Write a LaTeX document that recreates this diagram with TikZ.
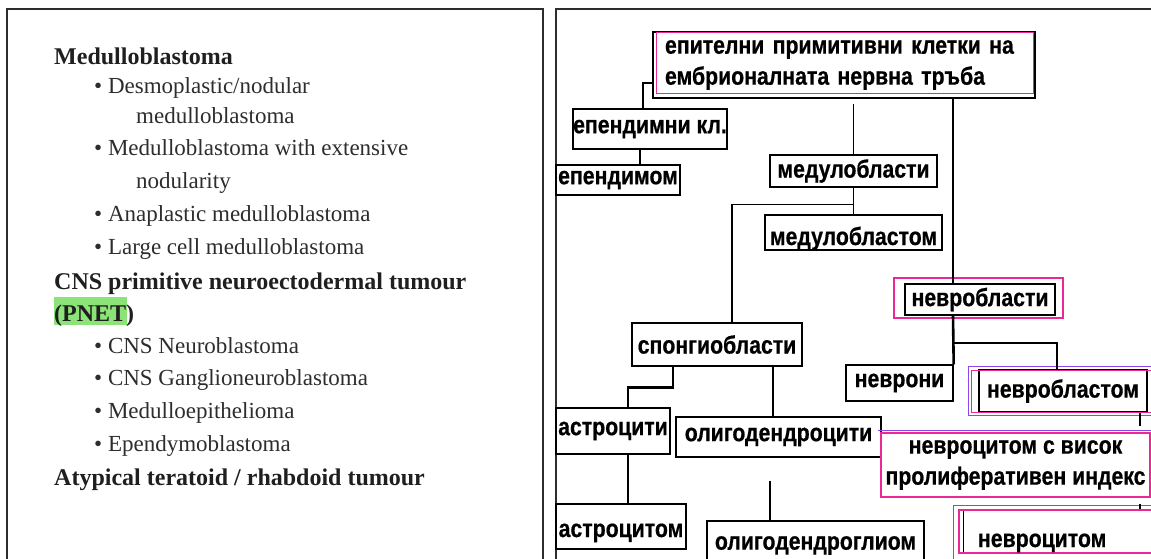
\documentclass[tikz,border=0pt]{standalone}
\usepackage{fontspec}
\setmainfont{Liberation Serif}
\newfontfamily\boxfont[FakeStretch=0.85,FakeBold=0.6]{Liberation Sans}
\usetikzlibrary{calc}

\definecolor{rose}{RGB}{236,40,150}
\definecolor{mauve}{RGB}{140,70,235}
\definecolor{surligne}{RGB}{140,228,120}
\definecolor{encre}{RGB}{45,45,45}

\tikzset{
  boite/.style={draw, line width=1.4pt, inner sep=0pt, text=black,
    font=\boxfont\bfseries\fontsize{25}{31}\selectfont},
  boitegrasse/.style={boite, line width=2.6pt},
  liste/.style={anchor=base west, inner sep=0pt, text=encre,
    font=\fontsize{23}{27}\selectfont},
  titre/.style={liste, text=black!88, font=\bfseries\fontsize{24}{27}\selectfont},
  lien/.style={line width=1.4pt},
  liengras/.style={line width=2.6pt}
}

% texte abaisse dans sa boite
\newcommand{\bas}[2]{\raisebox{-#1}[0pt][0pt]{#2}}

\begin{document}
\begin{tikzpicture}[x=1pt,y=-1pt]

%%%%%%%%%%%%%%%%%%%%%%
%%%	   Def style    %%%
%%%%%%%%%%%%%%%%%%%%%%

\def \epais{2.6pt}
\def \fin{1.4pt}
\def \cadre{1.3pt}

\useasboundingbox (0,0) rectangle (1151,559);
\clip (0,0) rectangle (1151,559);

%%%%%%%%%%%%%%%%%%%%%%
%%%	    Cadres      %%%
%%%%%%%%%%%%%%%%%%%%%%

\draw[line width=\fin, draw=encre] (7,570) -- (7,9) -- (543,9) -- (543,570);
\draw[line width=\fin, draw=encre] (556,570) -- (556,9) -- (1160,9);

%%%%%%%%%%%%%%%%%%%%%%
%%%	  Classification %%%
%%%%%%%%%%%%%%%%%%%%%%

% On surligne le sigle
\fill[surligne] (54,297) rectangle (127,325);

\node[titre] (medullo) at (54,65) {Medulloblastoma};
\node[liste] (desmo) at (94,94) {• Desmoplastic/nodular};
\node[liste] (desmob) at (136,124) {medulloblastoma};
\node[liste] (extens) at (94,156) {• Medulloblastoma with extensive};
\node[liste] (extensb) at (136,188) {nodularity};
\node[liste] (anapl) at (94,221) {• Anaplastic medulloblastoma};
\node[liste] (grande) at (94,254) {• Large cell medulloblastoma};
\node[titre] (pnet) at (54,289) {CNS primitive neuroectodermal tumour};
\node[titre] (pnetb) at (54,321) {(PNET)};
\node[liste] (neurob) at (94,353) {• CNS Neuroblastoma};
\node[liste] (gangl) at (94,385) {• CNS Ganglioneuroblastoma};
\node[liste] (epith) at (94,418) {• Medulloepithelioma};
\node[liste] (ependb) at (94,451) {• Ependymoblastoma};
\node[titre] (atyp) at (54,485) {Atypical teratoid / rhabdoid tumour};

%%%%%%%%%%%%%%%%%%%%%%
%%%	    Schema      %%%
%%%%%%%%%%%%%%%%%%%%%%

% Boite du haut
\node[boitegrasse, minimum width=382pt, minimum height=66pt, text width=358pt,
  align=left, inner xsep=12pt] (epit) at (844,65)
  {епителни примитивни клетки на\\ембрионалната нервна тръба};
\draw[rose, line width=\cadre] ([shift={(5,2)}]epit.north west) rectangle ([shift={(-3,-6)}]epit.south east);

% Branche ependymaire
\node[boitegrasse, minimum width=154pt, minimum height=40pt] (epend) at (650,129) {епендимни кл.};
\node[boite, minimum width=124pt, minimum height=30pt] (ependom) at (618,180) {епендимом};

% Branche medullaire
\node[boitegrasse, minimum width=167pt, minimum height=32pt] (medbl) at (853.5,171) {медулобласти};
\node[boite, minimum width=177pt, minimum height=35pt] (medblm) at (853.5,232.5) {\bas{12.5pt}{медулобластом}};
\node[boite, minimum width=170pt, minimum height=43pt] (spong) at (717,344.5) {спонгиобласти};
\node[boite, minimum width=114pt, minimum height=46pt] (astr) at (613,431) {астроцити};
\node[boite, minimum width=205pt, minimum height=40pt] (oligo) at (778.5,437) {олигодендроцити};
\node[boite, minimum width=130pt, minimum height=45pt] (astrm) at (621,526.5) {\bas{10.5pt}{астроцитом}};
\node[boite, minimum width=217pt, minimum height=49pt] (oligogl) at (815.5,545.5) {олигодендроглиом};

% Branche neuronale
\node[boite, line width=2pt, minimum width=150pt, minimum height=31pt] (nevbl) at (980,299.5) {невробласти};
\draw[rose, line width=\cadre] ([shift={(-10,-5)}]nevbl.north west) rectangle ([shift={(7,2)}]nevbl.south east);

\node[boite, minimum width=107pt, minimum height=36pt] (nevr) at (899.5,383) {неврони};

\node[boite, minimum width=168pt, minimum height=42pt] (nevblm) at (1063,391) {невробластом};
\draw[rose, line width=\cadre] ([shift={(-7,1)}]nevblm.north west) rectangle ([shift={(13,0)}]nevblm.south east);
\draw[mauve, line width=\cadre] ([shift={(-10,-3)}]nevblm.north west) rectangle ([shift={(16,3)}]nevblm.south east);

\node[boite, draw=rose, minimum width=269pt, minimum height=64pt, align=center] (nevcv) at (1015.5,465)
  {невроцитом с висок\\пролиферативен индекс};
\draw[mauve, line width=\cadre] ([shift={(-2,-2)}]nevcv.north west) -- ([shift={(10,-2)}]nevcv.north east);

\node[boite, draw=rose, minimum width=196pt, minimum height=43pt, text width=158pt,
  align=left, inner xsep=19pt] (nevc) at (1057,531.5) {\bas{15.5pt}{невроцитом}};
\draw[mauve, line width=\cadre] ([shift={(-5,-4)}]nevc.north west) rectangle ([shift={(5,8)}]nevc.south east);
\draw[line width=\fin] ([xshift=5pt,yshift=-2pt]nevc.north west) -- ([xshift=5pt,yshift=2pt]nevc.south west);

%%%%%%%%%%%%%%%%%%%%%%
%%%	    Liaisons    %%%
%%%%%%%%%%%%%%%%%%%%%%

\draw[lien] ([yshift=-18pt]epit.west) -| ([xshift=-7pt]epend.north);
\draw[liengras] ([xshift=-10pt]epend.south) -- ([xshift=-10pt]epend.south |- ependom.north);
\draw[lien, shorten >=5pt] (medbl.north) -- (medbl.north |- epit.south);
\draw[liengras] ([xshift=109pt]epit.south) -- ([xshift=109pt]epit.south |- nevbl.north);

\draw[lien] (medbl.south) -- (medblm.north);
\draw[lien] ([yshift=-16pt]medbl.south) -| ([xshift=15pt]spong.north);

\draw[liengras] ([xshift=-27pt]nevbl.south) -- (nevr.north east);
\draw[liengras] ([xshift=-27pt,yshift=-27pt]nevbl.south) -| ([xshift=-6pt]nevblm.north);

\draw[liengras] ([xshift=-44pt]spong.south) -- ++(0,21) -| ([xshift=15pt]astr.north);
\draw[liengras] ([xshift=56pt]spong.south) -- ([xshift=56pt]spong.south |- oligo.north);
\draw[liengras] ([xshift=15pt]astr.south) -- ([xshift=15pt]astr.south |- astrm.north);
\draw[lien, shorten <=23pt] ([xshift=-8.5pt]oligo.south) -- ([xshift=-8.5pt]oligo.south |- oligogl.north);

\draw[lien, shorten >=6pt] ([xshift=77pt]nevblm.south) -- ([xshift=77pt]nevblm.south |- nevcv.north);
\draw[lien, shorten <=6pt] ([xshift=124.5pt]nevcv.south) -- ([xshift=124.5pt]nevcv.south |- nevc.north);

\end{tikzpicture}
\end{document}
